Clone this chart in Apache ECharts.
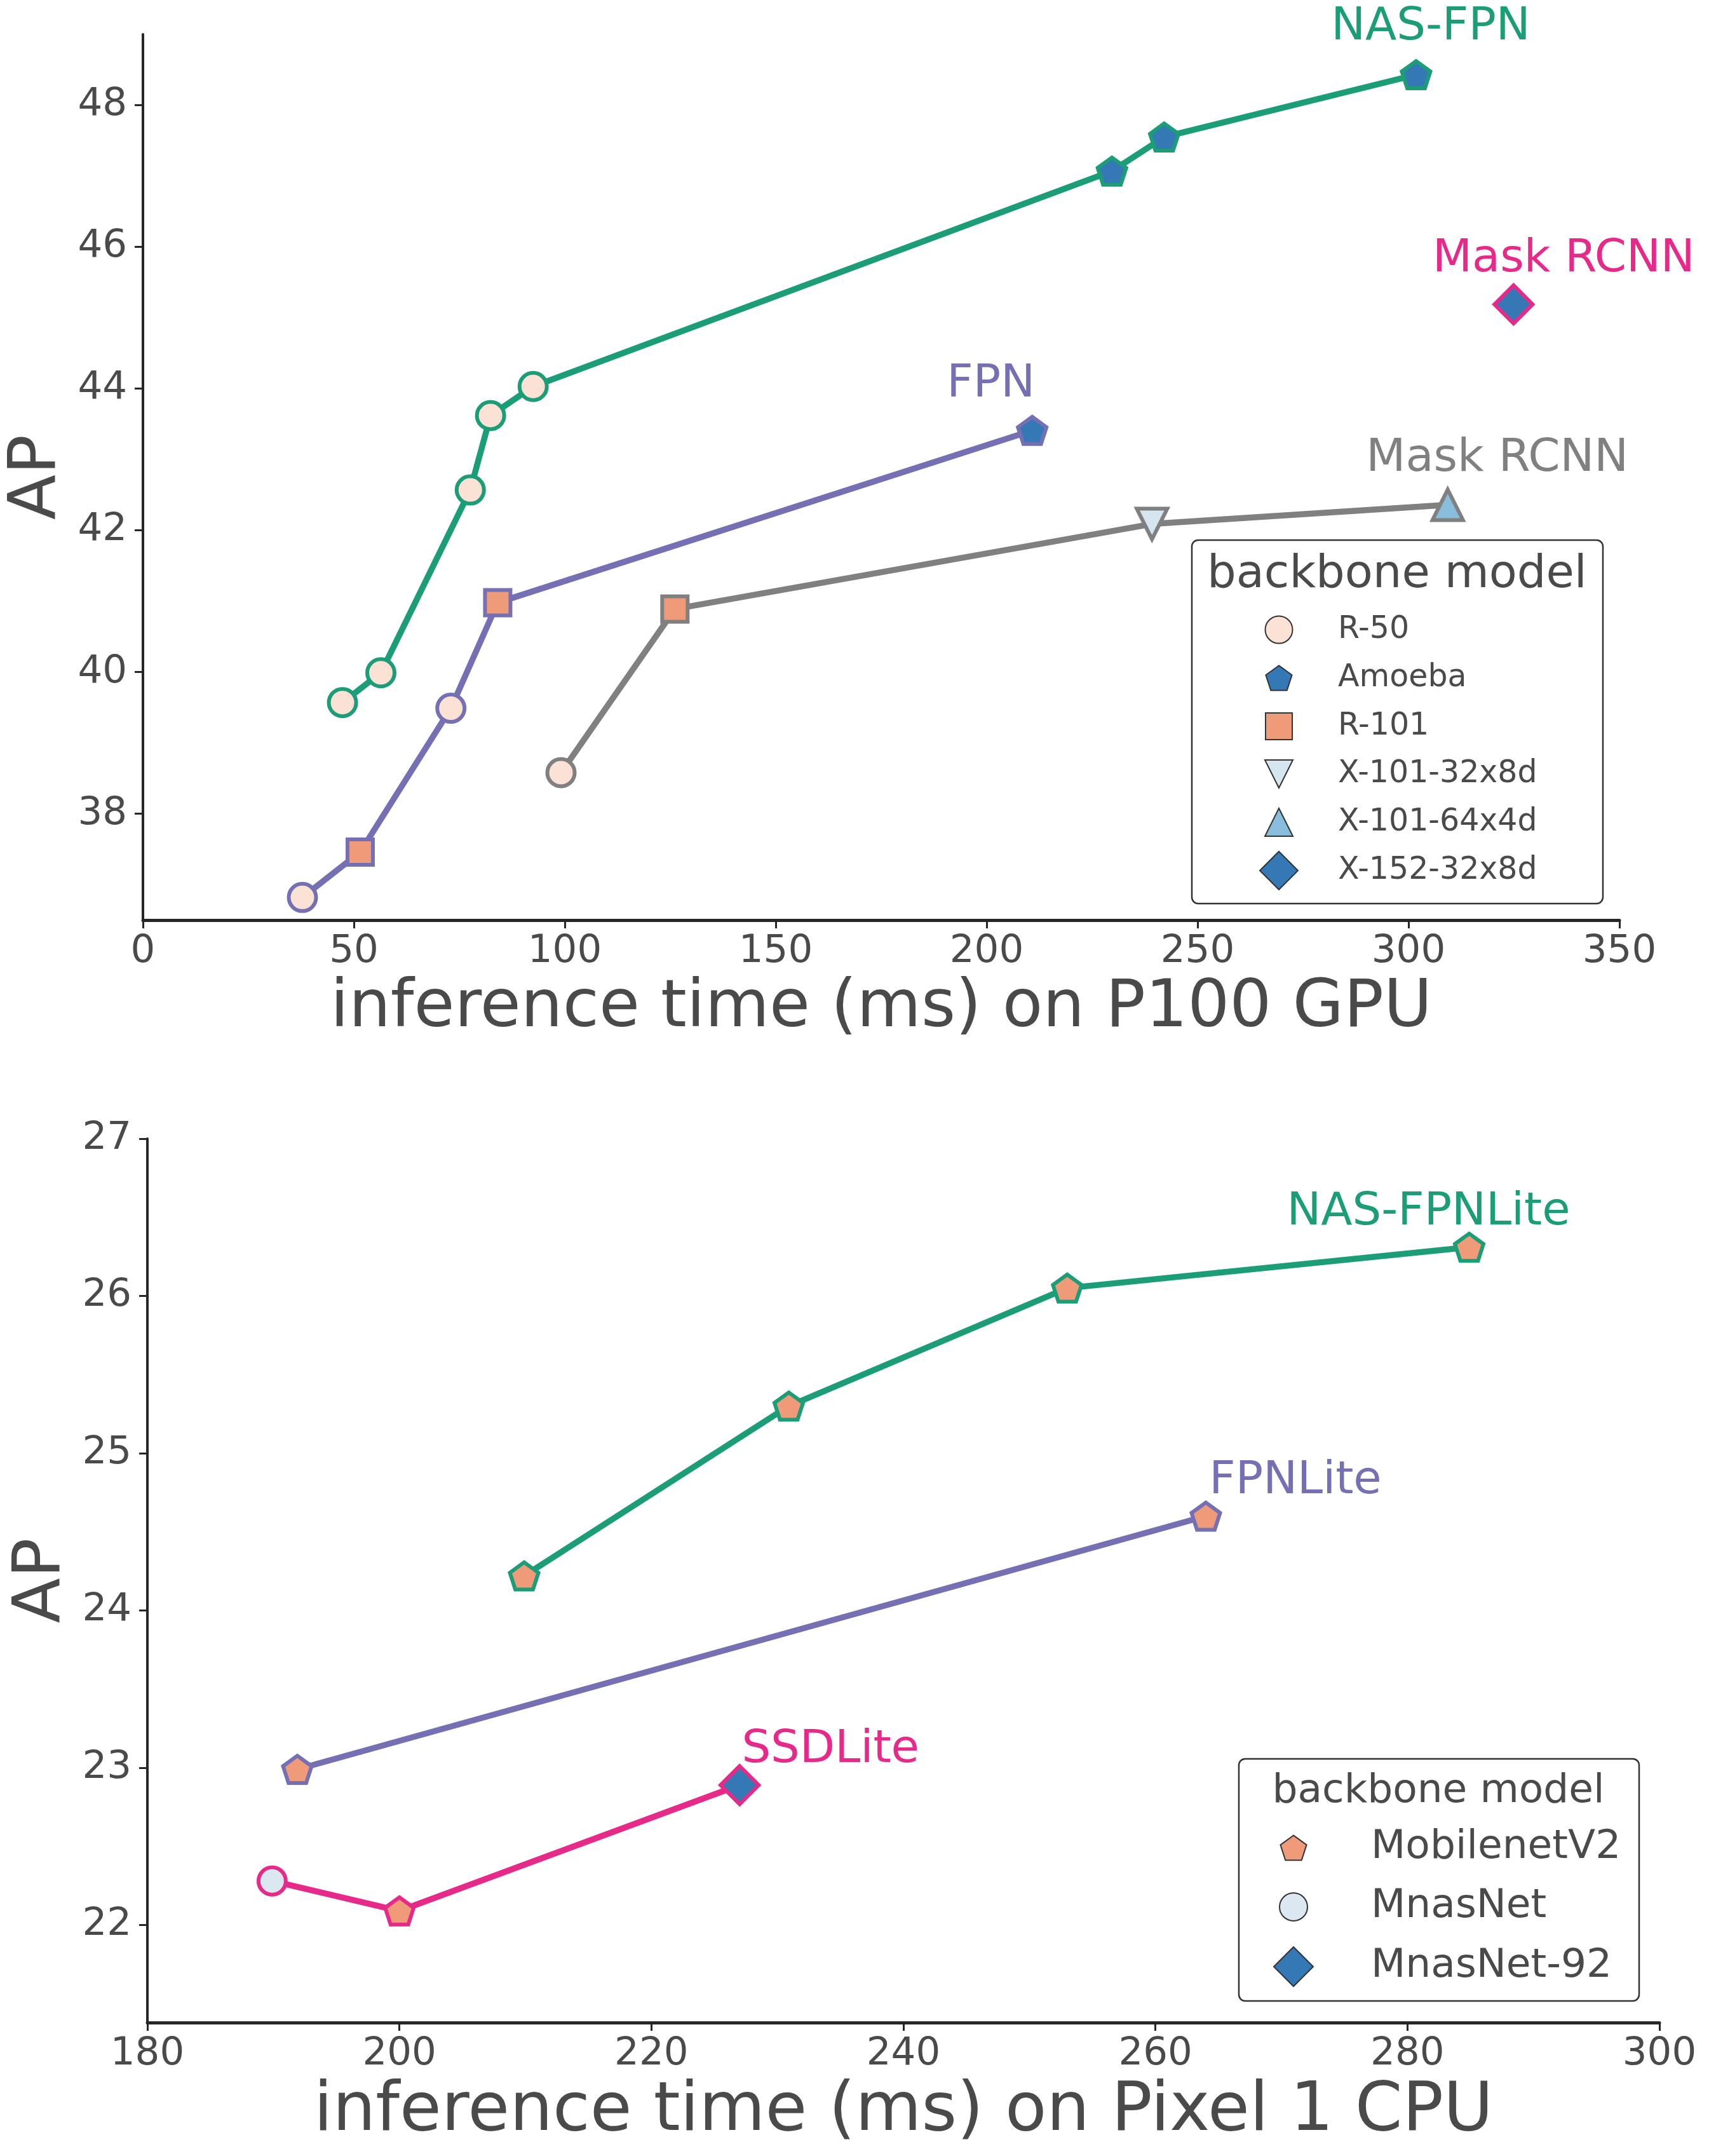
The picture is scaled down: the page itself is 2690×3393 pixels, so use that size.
<!DOCTYPE html>
<html>
<head>
<meta charset="utf-8">
<script src="https://cdn.jsdelivr.net/npm/echarts@6/dist/echarts.min.js"></script>
<style>
html, body { margin: 0; padding: 0; background: #fff; }
#main { width: 2690px; height: 3393px; }
</style>
</head>
<body>
<div id="main"></div>
<script>
// ---- top panel: P100 GPU ----
var nasFpnTime = [47.3, 56.4, 77.6, 82.4, 92.5, 229.7, 242.1, 301.8];
var nasFpnAP   = [39.57, 39.99, 42.57, 43.62, 44.03, 47.07, 47.55, 48.43];
var nasFpnBb   = ['R-50', 'R-50', 'R-50', 'R-50', 'R-50', 'Amoeba', 'Amoeba', 'Amoeba'];

var fpnTime = [37.8, 51.5, 73.0, 84.1, 210.8];
var fpnAP   = [36.82, 37.46, 39.49, 40.98, 43.41];
var fpnBb   = ['R-50', 'R-101', 'R-50', 'R-101', 'Amoeba'];

var maskTime = [99.1, 126.1, 239.2, 309.3];
var maskAP   = [38.58, 40.89, 42.09, 42.36];
var maskBb   = ['R-50', 'R-101', 'X-101-32x8d', 'X-101-64x4d'];

var mask152Time = [324.9];
var mask152AP   = [45.19];
var mask152Bb   = ['X-152-32x8d'];

var topBackbones = ['R-50', 'Amoeba', 'R-101', 'X-101-32x8d', 'X-101-64x4d', 'X-152-32x8d'];
var topYTicks = [38, 40, 42, 44, 46, 48];

// ---- bottom panel: Pixel 1 CPU ----
var nasLiteTime = [209.9, 230.9, 253.0, 284.9];
var nasLiteAP   = [24.22, 25.30, 26.05, 26.31];
var nasLiteBb   = ['MobilenetV2', 'MobilenetV2', 'MobilenetV2', 'MobilenetV2'];

var fpnLiteTime = [191.9, 264.0];
var fpnLiteAP   = [22.99, 24.60];
var fpnLiteBb   = ['MobilenetV2', 'MobilenetV2'];

var ssdLiteTime = [189.9, 200.0, 227.0];
var ssdLiteAP   = [22.28, 22.09, 22.89];
var ssdLiteBb   = ['MnasNet', 'MobilenetV2', 'MnasNet-92'];

var bottomBackbones = ['MobilenetV2', 'MnasNet', 'MnasNet-92'];
var bottomYTicks = [22, 23, 24, 25, 26, 27];

var GREEN = '#1b9e77', PURPLE = '#7570b3', PINK = '#e7298a', GREY = '#808080';
var TXT = '#4a4a4a', AXIS = '#262626', FONT = 'DejaVu Sans';
var PENTA = 'path://M50,0 L97.55,34.55 L79.39,90.45 L20.61,90.45 L2.45,34.55 Z';

var bbStyle = {
  'R-50':        { symbol: 'circle',   shape: 'circle',   size: 43, fill: '#fbe2d4', icon: 43 },
  'Amoeba':      { symbol: PENTA,      shape: 'pentagon', size: 45, fill: '#3478b5', icon: 42 },
  'R-101':       { symbol: 'rect',     shape: 'square',   size: 40, fill: '#ef9a79', icon: 42 },
  'X-101-32x8d': { symbol: 'triangle', shape: 'tridown',  size: 48, fill: '#d5e6f0', icon: 44, rotate: 180 },
  'X-101-64x4d': { symbol: 'triangle', shape: 'triup',    size: 48, fill: '#88bedb', icon: 44 },
  'X-152-32x8d': { symbol: 'diamond',  shape: 'diamond',  size: 60, fill: '#3478b5', icon: 60 },
  'MobilenetV2': { symbol: PENTA,      shape: 'pentagon', size: 45, fill: '#ef9a79', icon: 42 },
  'MnasNet':     { symbol: 'circle',   shape: 'circle',   size: 43, fill: '#dbe8f1', icon: 44 },
  'MnasNet-92':  { symbol: 'diamond',  shape: 'diamond',  size: 60, fill: '#3478b5', icon: 62 }
};

function points(xs, ys, bbs, edge, label) {
  return xs.map(function (x, i) {
    var s = bbStyle[bbs[i]];
    var d = {
      value: [x, ys[i]],
      symbol: s.symbol,
      symbolSize: s.size,
      symbolRotate: s.rotate || 0,
      symbolKeepAspect: true,
      itemStyle: { color: s.fill, borderColor: edge, borderWidth: 6 }
    };
    if (label && i === xs.length - 1) {
      d.label = {
        show: true, position: 'inside', formatter: label.text, offset: label.offset,
        color: edge, fontSize: 72, fontFamily: FONT
      };
    }
    return d;
  });
}

function lineSeries(name, idx, xs, ys, bbs, color, label) {
  return {
    name: name, type: 'line', xAxisIndex: idx, yAxisIndex: idx,
    data: points(xs, ys, bbs, color, label),
    lineStyle: { color: color, width: 9.5 },
    itemStyle: { color: color },
    emphasis: { disabled: true },
    z: 3
  };
}

function xAxisOpt(idx, min, max, interval, name, nameSize) {
  return {
    gridIndex: idx, type: 'value', min: min, max: max, interval: interval,
    name: name, nameLocation: 'middle', nameGap: 88,
    nameTextStyle: { fontSize: nameSize, color: TXT, fontFamily: FONT },
    axisLine: { show: true, lineStyle: { color: AXIS, width: 5 } },
    axisTick: { show: true, length: 13, lineStyle: { color: AXIS, width: 3 } },
    axisLabel: { fontSize: 61, color: TXT, fontFamily: FONT, margin: 20 },
    splitLine: { show: false }
  };
}

function yAxisOpt(idx, min, max, ticks) {
  return {
    gridIndex: idx, type: 'value', min: min, max: max,
    name: 'AP', nameLocation: 'middle', nameGap: 110,
    nameTextStyle: { fontSize: 104, color: TXT, fontFamily: FONT },
    axisLine: { show: true, lineStyle: { color: AXIS, width: 4 } },
    axisTick: { show: true, length: 13, customValues: ticks, lineStyle: { color: AXIS, width: 3 } },
    axisLabel: { fontSize: 61, color: TXT, fontFamily: FONT, margin: 25, customValues: ticks },
    splitLine: { show: false }
  };
}

// legend boxes drawn as graphics
function iconShape(name, cx, cy) {
  var s = bbStyle[name], r = s.icon / 2, pts;
  var style = { fill: s.fill, stroke: '#333', lineWidth: 2 };
  if (s.shape === 'circle') return { type: 'circle', shape: { cx: cx, cy: cy, r: r }, style: style };
  if (s.shape === 'square') return { type: 'rect', shape: { x: cx - r, y: cy - r, width: 2 * r, height: 2 * r }, style: style };
  if (s.shape === 'diamond') pts = [[cx, cy - r], [cx + r, cy], [cx, cy + r], [cx - r, cy]];
  if (s.shape === 'triup') pts = [[cx, cy - r], [cx + r, cy + r], [cx - r, cy + r]];
  if (s.shape === 'tridown') pts = [[cx, cy + r], [cx + r, cy - r], [cx - r, cy - r]];
  if (s.shape === 'pentagon') {
    pts = [];
    for (var k = 0; k < 5; k++) {
      var a = (-90 + 72 * k) * Math.PI / 180;
      pts.push([cx + r * 1.03 * Math.cos(a), cy + 2 + r * 1.03 * Math.sin(a)]);
    }
  }
  return { type: 'polygon', shape: { points: pts }, style: style };
}

function legendGraphic(box, title, names, iconX, textX, ys, itemFont) {
  var els = [{
    type: 'rect', shape: { x: box.x, y: box.y, width: box.w, height: box.h, r: 10 },
    style: { fill: '#fff', stroke: '#333', lineWidth: 2.5 }
  }, {
    type: 'text', x: title.x, y: title.y,
    style: { text: 'backbone model', fill: TXT, font: title.size + 'px "DejaVu Sans"', align: title.align, verticalAlign: 'middle' }
  }];
  names.forEach(function (n, i) {
    els.push(iconShape(n, iconX, ys[i]));
    els.push({
      type: 'text', x: textX, y: ys[i],
      style: { text: n, fill: TXT, font: itemFont + 'px "DejaVu Sans"', align: 'left', verticalAlign: 'middle' }
    });
  });
  return { type: 'group', z: 100, children: els };
}

var chart = echarts.init(document.getElementById('main'));
chart.setOption({
  animation: false,
  backgroundColor: '#fff',
  grid: [
    { left: 225, top: 54, width: 2324, height: 1394, outerBoundsMode: 'none' },
    { left: 232, top: 1792, width: 2380, height: 1391, outerBoundsMode: 'none' }
  ],
  xAxis: [
    xAxisOpt(0, 0, 350, 50, 'inference time (ms) on P100 GPU', 104),
    xAxisOpt(1, 180, 300, 20, 'inference time (ms) on Pixel 1 CPU', 107)
  ],
  yAxis: [
    yAxisOpt(0, 36.5, 49, topYTicks),
    yAxisOpt(1, 21.38, 27, bottomYTicks)
  ],
  series: [
    lineSeries('NAS-FPN', 0, nasFpnTime, nasFpnAP, nasFpnBb, GREEN, { text: 'NAS-FPN', offset: [23, -74] }),
    lineSeries('FPN', 0, fpnTime, fpnAP, fpnBb, PURPLE, { text: 'FPN', offset: [-65, -72] }),
    lineSeries('Mask RCNN', 0, maskTime, maskAP, maskBb, GREY, { text: 'Mask RCNN', offset: [78, -72] }),
    lineSeries('Mask RCNN X-152', 0, mask152Time, mask152AP, mask152Bb, PINK, { text: 'Mask RCNN', offset: [79, -71] }),
    lineSeries('NAS-FPNLite', 1, nasLiteTime, nasLiteAP, nasLiteBb, GREEN, { text: 'NAS-FPNLite', offset: [-64, -54] }),
    lineSeries('FPNLite', 1, fpnLiteTime, fpnLiteAP, fpnLiteBb, PURPLE, { text: 'FPNLite', offset: [141, -55] }),
    lineSeries('SSDLite', 1, ssdLiteTime, ssdLiteAP, ssdLiteBb, PINK, { text: 'SSDLite', offset: [143, -55] })
  ],
  graphic: [
    legendGraphic({ x: 1876, y: 850, w: 647, h: 572 }, { x: 1900, y: 905, size: 72, align: 'left' },
      topBackbones, 2013, 2106, [991, 1067, 1143, 1218, 1294, 1370], 49),
    legendGraphic({ x: 1950, y: 2768, w: 630, h: 381 }, { x: 2264, y: 2820, size: 63, align: 'center' },
      bottomBackbones, 2036, 2158, [2908, 3001, 3095], 63)
  ]
});
</script>
</body>
</html>
